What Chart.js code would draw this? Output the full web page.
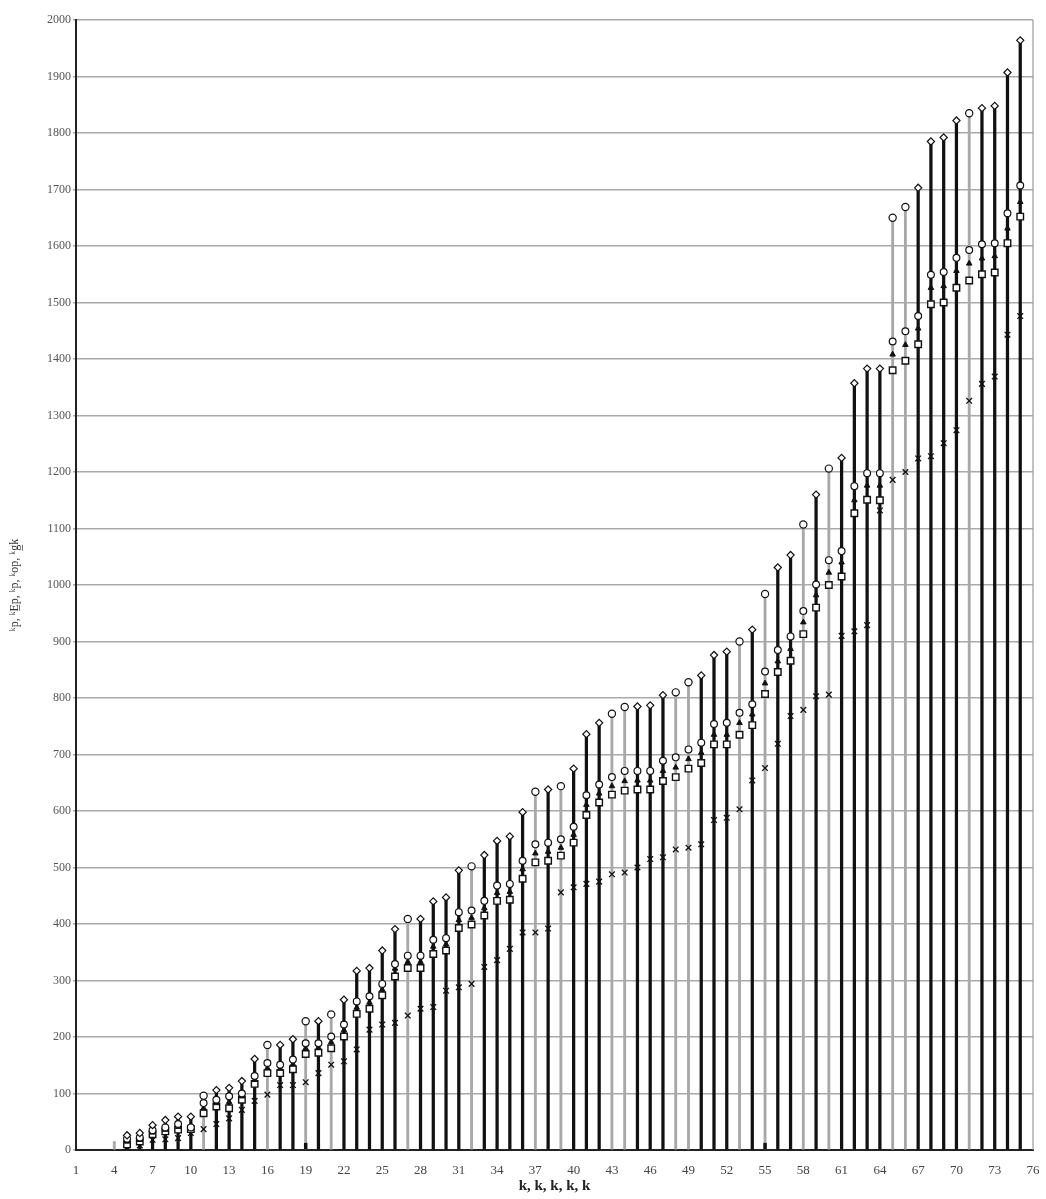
<!DOCTYPE html>
<html>
<head>
<meta charset="utf-8">
<script src="https://cdn.jsdelivr.net/npm/chart.js@4.4.1/dist/chart.umd.min.js"></script>
<style>
html,body{margin:0;padding:0;background:#fff;}
canvas{display:block;}
</style>
</head>
<body>
<canvas id="c" width="1046" height="1199"></canvas>
<script>
// ---- data ----
const ks = [5,6,7,8,9,10,11,12,13,14,15,16,17,18,19,20,21,22,23,24,25,26,27,28,29,30,31,32,33,34,35,36,37,38,39,40,41,42,43,44,45,46,47,48,49,50,51,52,53,54,55,56,57,58,59,60,61,62,63,64,65,66,67,68,69,70,71,72,73,74,75];
const topVals = [26,30,44,53,59,59, 96,106,110,122,161, 186,186,196,228,228, 240,266,317,322,353, 391,409,409,440,447, 495,502,522,547,555, 598,634,638,644,675, 736,756,772,784,785, 787,805,810,828,840, 876,882,900,921,984, 1031,1053,1107,1160,1206, 1225,1357,1383,1383,1650, 1669,1703,1785,1792,1822, 1835,1844,1848,1907,1964];
const circleVals = [20,22,35,40,46,40, 83,89,95,100,131, 154,151,160,189,189, 201,222,263,272,294, 329,344,344,372,375, 421,424,441,468,471, 512,541,544,550,572, 628,647,660,671,671, 671,689,695,709,721, 754,756,774,789,847, 885,909,954,1001,1044, 1060,1175,1198,1198,1431, 1449,1476,1549,1554,1579, 1593,1603,1605,1658,1707];
const triangleVals = [15,18,31,36,41,38, 74,83,85,95,124, 145,144,152,180,181, 191,212,252,261,284, 321,333,333,360,364, 407,411,428,455,457, 497,525,528,535,558, 611,631,644,653,654, 654,671,677,692,703, 735,735,756,771,826, 865,887,934,982,1022, 1040,1150,1176,1176,1408, 1425,1454,1526,1529,1556, 1569,1578,1582,1631,1678];
const squareVals = [10,15,28,33,36,37, 65,77,74,89,117, 136,136,143,170,172, 180,201,241,250,274, 307,322,322,347,353, 393,399,415,441,443, 480,509,512,521,544, 593,615,629,636,638, 638,653,660,675,685, 718,718,735,752,807, 846,866,913,960,1000, 1015,1127,1151,1150,1380, 1397,1426,1497,1500,1526, 1539,1550,1553,1605,1652];
const crossVals = [5,8,18,19,21,30, 37,46,56,71,87, 98,115,115,120,136, 151,157,178,213,222, 225,238,250,253,282, 288,294,324,336,356, 385,385,392,456,465, 471,475,488,491,500, 515,518,532,535,541, 584,588,603,654,676, 719,768,779,803,806, 910,918,929,1132,1186, 1200,1224,1228,1251,1274, 1326,1356,1369,1443,1476];
// categories whose stem is the light (grey) kind, topped by a circle
const thinStemKs = [4,11,16,19,21,27,32,37,39,43,44,48,49,53,55,58,60,65,66,71];
// short base stems
const baseKs = [4,19,55];
const baseVals = [15,12,12];
// tick labels
const xTicks = [1,4,7,10,13,16,19,22,25,28,31,34,37,40,43,46,49,52,55,58,61,64,67,70,73,76];
const yTicks = [0,100,200,300,400,500,600,700,800,900,1000,1100,1200,1300,1400,1500,1600,1700,1800,1900,2000];
const xTitle = 'k, k, k, k, k';
const yTitle = 'ᵏp, ᵏE̲p, ᵏp, ᵏop, ᵏg̲k';

// ---- build datasets ----
const isThin = k => thinStemKs.includes(k);
const pts = vals => ks.map((k,i)=>({x:k,y:vals[i]}));
const thickStem = ks.map((k,i)=>({x:k,y:topVals[i]})).filter(p=>!isThin(p.x));
const thinStem = ks.map((k,i)=>({x:k,y:topVals[i]})).filter(p=>isThin(p.x));
const baseStemThin = baseKs.map((k,i)=>({x:k,y:baseVals[i]})).filter(p=>isThin(p.x) && !ks.includes(p.x));
const baseStemThick = baseKs.map((k,i)=>({x:k,y:baseVals[i]})).filter(p=>ks.includes(p.x));

const frame = {
  id:'frame',
  afterDatasetsDraw(chart){
    const {ctx, chartArea:a} = chart;
    ctx.save();
    ctx.strokeStyle = '#9a9a9a';
    ctx.lineWidth = 1.2;
    ctx.beginPath();
    ctx.moveTo(a.right, a.top); ctx.lineTo(a.right, a.bottom);
    ctx.stroke();
    ctx.restore();
  }
};

new Chart(document.getElementById('c'), {
  type: 'bar',
  data: {
    datasets: [
      {type:'bar', data: thinStem, backgroundColor:'#a8a8a8', barThickness:2.2, grouped:false, order:10},
      {type:'bar', data: baseStemThin, backgroundColor:'#a8a8a8', barThickness:2.2, grouped:false, order:9},
      {type:'bar', data: thickStem, backgroundColor:'#111', barThickness:2.6, grouped:false, order:8},
      {type:'bar', data: baseStemThick, backgroundColor:'#111', barThickness:2.8, grouped:false, order:7},
      {type:'scatter', data: pts(crossVals), pointStyle:'crossRot', radius:4, borderColor:'#111', borderWidth:1.3, order:5},
      {type:'scatter', data: pts(squareVals), pointStyle:'rect', radius:4.6, backgroundColor:'#fff', borderColor:'#111', borderWidth:1.4, order:4},
      {type:'scatter', data: pts(triangleVals), pointStyle:'triangle', radius:3.2, backgroundColor:'#111', borderColor:'#111', borderWidth:1, order:3},
      {type:'scatter', data: pts(circleVals), pointStyle:'circle', radius:3.4, backgroundColor:'#fff', borderColor:'#111', borderWidth:1.2, order:2},
      {type:'scatter', data: pts(topVals), pointStyle: ks.map(k=>isThin(k)?'circle':'rectRot'), radius:3.6, backgroundColor:'#fff', borderColor:'#111', borderWidth:1.2, order:1}
    ]
  },
  options: {
    responsive:false,
    animation:false,
    events:[],
    layout:{padding:{top:20,right:13,left:0,bottom:0}},
    plugins:{legend:{display:false}, tooltip:{enabled:false}},
    scales:{
      x:{
        type:'linear', min:1, max:76, offset:false,
        afterBuildTicks: s => { s.ticks = xTicks.map(v=>({value:v})); },
        afterFit: s => { s.height = 49; },
        grid:{display:false},
        border:{display:true, color:'#222', width:2},
        ticks:{color:'#444', padding:5, autoSkip:false, maxRotation:0, callback: v => String(v), font:{family:'Liberation Serif', size:13}},
        title:{display:true, text:xTitle, color:'#222', padding:{top:0,bottom:4}, font:{family:'Liberation Serif', size:15, weight:'bold'}}
      },
      y:{
        type:'linear', min:0, max:2000,
        afterBuildTicks: s => { s.ticks = yTicks.map(v=>({value:v})); },
        afterFit: s => { s.width = 76; },
        grid:{color:'#a9a9a9', lineWidth:1.5, tickLength:3, drawTicks:true},
        border:{display:true, color:'#222', width:2},
        ticks:{color:'#555', padding:2, callback: v => String(v), font:{family:'Liberation Serif', size:12}},
        title:{display:true, text:yTitle, color:'#333', padding:{top:8,bottom:0}, font:{family:'Liberation Serif', size:12}}
      }
    }
  },
  plugins:[frame]
});
</script>
</body>
</html>
